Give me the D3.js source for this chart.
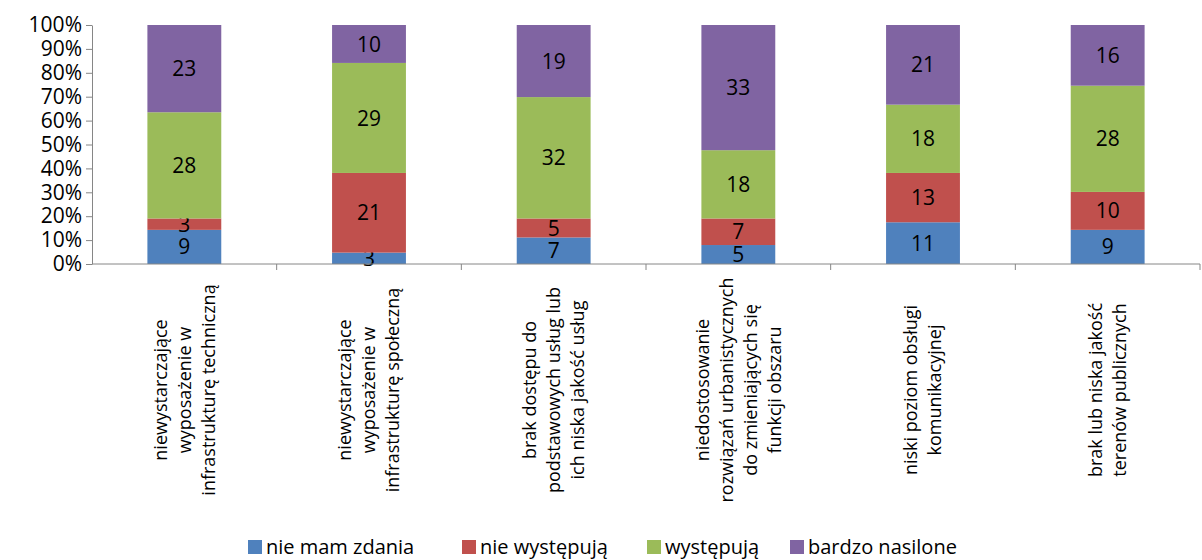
<!DOCTYPE html>
<html>
<head>
<meta charset="utf-8">
<script src="https://cdn.jsdelivr.net/npm/d3@7"></script>
<style>
  body { margin: 0; background: #fff; }
  svg { display: block; font-family: "Open Sans", sans-serif; }
  .axis path, .axis line { stroke: #868686; }
</style>
</head>
<body>
<div id="chart"></div>
<script>
// categories (each label split into lines)
const categories = [
  ["niewystarczające", "wyposażenie w", "infrastrukturę techniczną"],
  ["niewystarczające", "wyposażenie w", "infrastrukturę społeczną"],
  ["brak dostępu do", "podstawowych usług lub", "ich niska jakość usług"],
  ["niedostosowanie", "rozwiązań urbanistycznych", "do zmieniających się", "funkcji obszaru"],
  ["niski poziom obsługi", "komunikacyjnej"],
  ["brak lub niska jakość", "terenów publicznych"]
];
const seriesNames = ["nie mam zdania", "nie występują", "występują", "bardzo nasilone"];
const seriesColors = ["#4F81BD", "#C0504D", "#9BBB59", "#8064A2"];

const nieMamZdania   = [9, 3, 7, 5, 11, 9];
const nieWystepuja   = [3, 21, 5, 7, 13, 10];
const wystepuja      = [28, 29, 32, 18, 18, 28];
const bardzoNasilone = [23, 10, 19, 33, 21, 16];

const yTicks = [0, 0.1, 0.2, 0.3, 0.4, 0.5, 0.6, 0.7, 0.8, 0.9, 1];

const W = 1202, H = 560;
const margin = { left: 92, right: 2, top: 25, bottom: H - 264 };

const svg = d3.select("#chart").append("svg").attr("width", W).attr("height", H);

const rows = categories.map((c, i) => ({
  idx: i,
  s0: nieMamZdania[i], s1: nieWystepuja[i], s2: wystepuja[i], s3: bardzoNasilone[i]
}));
const keys = ["s0", "s1", "s2", "s3"];
const stacked = d3.stack().keys(keys).offset(d3.stackOffsetExpand)(rows);

const x = d3.scaleBand().domain(d3.range(categories.length))
  .range([margin.left, W - margin.right]).paddingInner(0.6).paddingOuter(0.3);
const y = d3.scaleLinear().domain([0, 1]).range([264, margin.top]);

// bars
const layer = svg.selectAll(".layer").data(stacked).enter().append("g")
  .attr("class", "layer")
  .attr("fill", (d, i) => seriesColors[i]);

layer.selectAll("rect").data(d => d).enter().append("rect")
  .attr("x", d => x(d.data.idx))
  .attr("width", x.bandwidth())
  .attr("y", d => y(d[1]))
  .attr("height", d => y(d[0]) - y(d[1]));

// value labels
layer.each(function (s) {
  const k = s.key;
  d3.select(this).selectAll("text").data(s).enter().append("text")
    .attr("x", d => x(d.data.idx) + x.bandwidth() / 2)
    .attr("y", d => (y(d[0]) + y(d[1])) / 2)
    .attr("dy", "0.36em")
    .attr("text-anchor", "middle")
    .attr("font-size", 21)
    .attr("fill", "#000")
    .text(d => d.data[k]);
});

// y axis
const yAxis = svg.append("g").attr("class", "axis")
  .attr("transform", `translate(${margin.left},0)`)
  .call(d3.axisLeft(y).tickValues(yTicks).tickFormat(d3.format(".0%")).tickSize(6).tickSizeOuter(0));
yAxis.selectAll("text").attr("font-size", 21).attr("fill", "#000")
  .attr("font-family", "Open Sans").attr("x", -10);

// x axis with ticks at category boundaries
const bounds = d3.range(categories.length + 1).map(i => margin.left + i * (W - margin.left - margin.right) / categories.length);
const xAxisG = svg.append("g").attr("class", "axis");
xAxisG.append("line")
  .attr("x1", margin.left).attr("x2", W - margin.right)
  .attr("y1", 264).attr("y2", 264);
xAxisG.selectAll(".tk").data(bounds.slice(1)).enter().append("line")
  .attr("x1", d => d).attr("x2", d => d)
  .attr("y1", 264).attr("y2", 270);

// category labels (rotated)
const lineGap = 24;
categories.forEach((lines, i) => {
  const cx = x(i) + x.bandwidth() / 2;
  const g = svg.append("g").attr("transform", `translate(${cx},390) rotate(-90)`);
  lines.forEach((ln, j) => {
    g.append("text")
      .attr("x", 0)
      .attr("y", (j - (lines.length - 1) / 2) * lineGap)
      .attr("dy", "0.36em")
      .attr("text-anchor", "middle")
      .attr("font-size", 18)
      .attr("fill", "#000")
      .text(ln);
  });
});

// legend
const legendX = [248, 462, 647, 790];
seriesNames.forEach((name, i) => {
  const g = svg.append("g").attr("transform", `translate(${legendX[i]},540)`);
  g.append("rect").attr("width", 14).attr("height", 14).attr("fill", seriesColors[i]);
  g.append("text").attr("x", 18).attr("y", 7).attr("dy", "0.36em")
    .attr("font-size", 20).attr("fill", "#000").text(name);
});
</script>
</body>
</html>
